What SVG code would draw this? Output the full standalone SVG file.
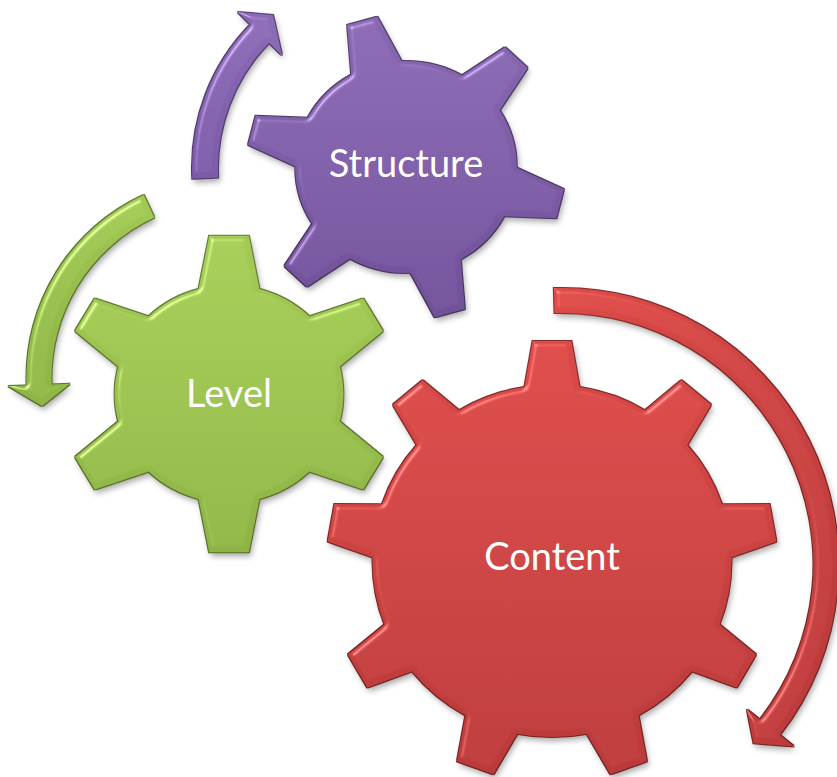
<svg xmlns="http://www.w3.org/2000/svg" xmlns:xlink="http://www.w3.org/1999/xlink" width="837" height="777" viewBox="0 0 837 777">
<style>
.label { font-family: Lato, "Open Sans", "Liberation Sans", sans-serif; font-size: 38px; fill: #ffffff; text-anchor: middle; }
.face { filter: url(#bevel); }
</style>
<defs>
  <filter id="bevel" x="-15%" y="-15%" width="135%" height="140%" color-interpolation-filters="sRGB">
    <feGaussianBlur in="SourceAlpha" stdDeviation="2.5" result="b"/>
    <feSpecularLighting in="b" surfaceScale="4" specularConstant="0.6" specularExponent="28" lighting-color="#ffffff" result="spec">
      <feDistantLight azimuth="225" elevation="40"/>
    </feSpecularLighting>
    <feComposite in="spec" in2="SourceAlpha" operator="in" result="specIn"/>
    <feComposite in="SourceGraphic" in2="specIn" operator="arithmetic" k1="0" k2="1" k3="0.55" k4="0" result="lit"/>
    <feMorphology in="SourceGraphic" operator="dilate" radius="1.2" result="dil"/>
    <feComponentTransfer in="dil" result="edge">
      <feFuncR type="linear" slope="0.62"/>
      <feFuncG type="linear" slope="0.62"/>
      <feFuncB type="linear" slope="0.62"/>
    </feComponentTransfer>
    <feGaussianBlur in="SourceAlpha" stdDeviation="3" result="sb"/>
    <feOffset in="sb" dx="2" dy="4" result="so"/>
    <feComponentTransfer in="so" result="shadow">
      <feFuncA type="linear" slope="0.35"/>
    </feComponentTransfer>
    <feMerge>
      <feMergeNode in="shadow"/>
      <feMergeNode in="edge"/>
      <feMergeNode in="lit"/>
    </feMerge>
  </filter>

  <linearGradient id="gradRed" x1="0" y1="0" x2="0" y2="1">
    <stop offset="0" stop-color="#da4a48"/>
    <stop offset="1" stop-color="#b9393a"/>
  </linearGradient>
  <linearGradient id="gradGreen" x1="0" y1="0" x2="0" y2="1">
    <stop offset="0" stop-color="#a4ca56"/>
    <stop offset="1" stop-color="#8db345"/>
  </linearGradient>
  <linearGradient id="gradPurple" x1="0" y1="0" x2="0" y2="1">
    <stop offset="0" stop-color="#8a69b3"/>
    <stop offset="1" stop-color="#6e5097"/>
  </linearGradient>
  <linearGradient id="arrowRed" x1="0" y1="0" x2="1" y2="1">
    <stop offset="0" stop-color="#dc4b48"/>
    <stop offset="1" stop-color="#b9393a"/>
  </linearGradient>
  <linearGradient id="arrowGreen" x1="1" y1="0" x2="0" y2="1">
    <stop offset="0" stop-color="#a2c855"/>
    <stop offset="1" stop-color="#8cb244"/>
  </linearGradient>
  <linearGradient id="arrowPurple" x1="0" y1="1" x2="1" y2="0">
    <stop offset="0" stop-color="#7a5aa6"/>
    <stop offset="1" stop-color="#8d6cb6"/>
  </linearGradient>

  <clipPath id="clip-content">
    <circle r="176"/>
    <polygon id="tooth-c" points="-28,-168 -19,-220 19,-220 28,-168"/>
    <use xlink:href="#tooth-c" href="#tooth-c" transform="rotate(40)"/>
    <use xlink:href="#tooth-c" href="#tooth-c" transform="rotate(80)"/>
    <use xlink:href="#tooth-c" href="#tooth-c" transform="rotate(120)"/>
    <use xlink:href="#tooth-c" href="#tooth-c" transform="rotate(160)"/>
    <use xlink:href="#tooth-c" href="#tooth-c" transform="rotate(200)"/>
    <use xlink:href="#tooth-c" href="#tooth-c" transform="rotate(240)"/>
    <use xlink:href="#tooth-c" href="#tooth-c" transform="rotate(280)"/>
    <use xlink:href="#tooth-c" href="#tooth-c" transform="rotate(320)"/>
  </clipPath>
  <clipPath id="clip-level">
    <circle r="110"/>
    <polygon id="tooth-l" points="-30,-102 -19,-160 19,-160 30,-102"/>
    <use xlink:href="#tooth-l" href="#tooth-l" transform="rotate(60)"/>
    <use xlink:href="#tooth-l" href="#tooth-l" transform="rotate(120)"/>
    <use xlink:href="#tooth-l" href="#tooth-l" transform="rotate(180)"/>
    <use xlink:href="#tooth-l" href="#tooth-l" transform="rotate(240)"/>
    <use xlink:href="#tooth-l" href="#tooth-l" transform="rotate(300)"/>
  </clipPath>
  <clipPath id="clip-structure">
    <circle r="106"/>
    <polygon id="tooth-s" points="-26,-98 -15,-152 15,-152 26,-98" transform="rotate(-16)"/>
    <use xlink:href="#tooth-s" href="#tooth-s" transform="rotate(60)"/>
    <use xlink:href="#tooth-s" href="#tooth-s" transform="rotate(120)"/>
    <use xlink:href="#tooth-s" href="#tooth-s" transform="rotate(180)"/>
    <use xlink:href="#tooth-s" href="#tooth-s" transform="rotate(240)"/>
    <use xlink:href="#tooth-s" href="#tooth-s" transform="rotate(300)"/>
  </clipPath>
</defs>

<rect width="837" height="777" fill="#ffffff"/>

<g id="connectors">
  <path id="arrow-structure" class="face" fill="url(#arrowPurple)"
    d="M 192.3 178.7 A 205 205 0 0 1 250.5 24.6 L 237.7 12.0 L 273.0 14.9 L 282.0 55.3 L 269.1 42.8 A 179 179 0 0 0 218.2 177.4 Z"/>
  <path id="arrow-level" class="face" fill="url(#arrowGreen)"
    d="M 143.8 194.9 A 201.5 201.5 0 0 0 26.6 385.4 L 8.1 386.1 L 42.1 406.1 L 70.1 383.8 L 51.6 384.5 A 176.5 176.5 0 0 1 154.2 217.6 Z"/>
  <path id="arrow-content" class="face" fill="url(#arrowRed)"
    d="M 553.8 288.1 A 276.5 276.5 0 0 1 779.6 735.1 L 794.1 746.5 L 753.6 743.2 L 746.9 709.5 L 759.9 719.7 A 251.5 251.5 0 0 0 554.5 313.1 Z"/>
</g>

<g id="node-structure">
  <g class="face">
    <g transform="translate(406 167) scale(1.045 1)">
      <rect x="-160" y="-160" width="320" height="320" fill="url(#gradPurple)" clip-path="url(#clip-structure)"/>
    </g>
  </g>
  <text class="label" x="406" y="177">Structure</text>
</g>

<g id="node-level">
  <g class="face">
    <g transform="translate(229 394) scale(1.04 0.99)">
      <rect x="-165" y="-165" width="330" height="330" fill="url(#gradGreen)" clip-path="url(#clip-level)"/>
    </g>
  </g>
  <text class="label" x="229" y="407">Level</text>
</g>

<g id="node-content">
  <g class="face">
    <g transform="translate(552 561) scale(1.02 1)">
      <rect x="-225" y="-225" width="450" height="450" fill="url(#gradRed)" clip-path="url(#clip-content)"/>
    </g>
  </g>
  <text class="label" x="552" y="570">Content</text>
</g>
</svg>
